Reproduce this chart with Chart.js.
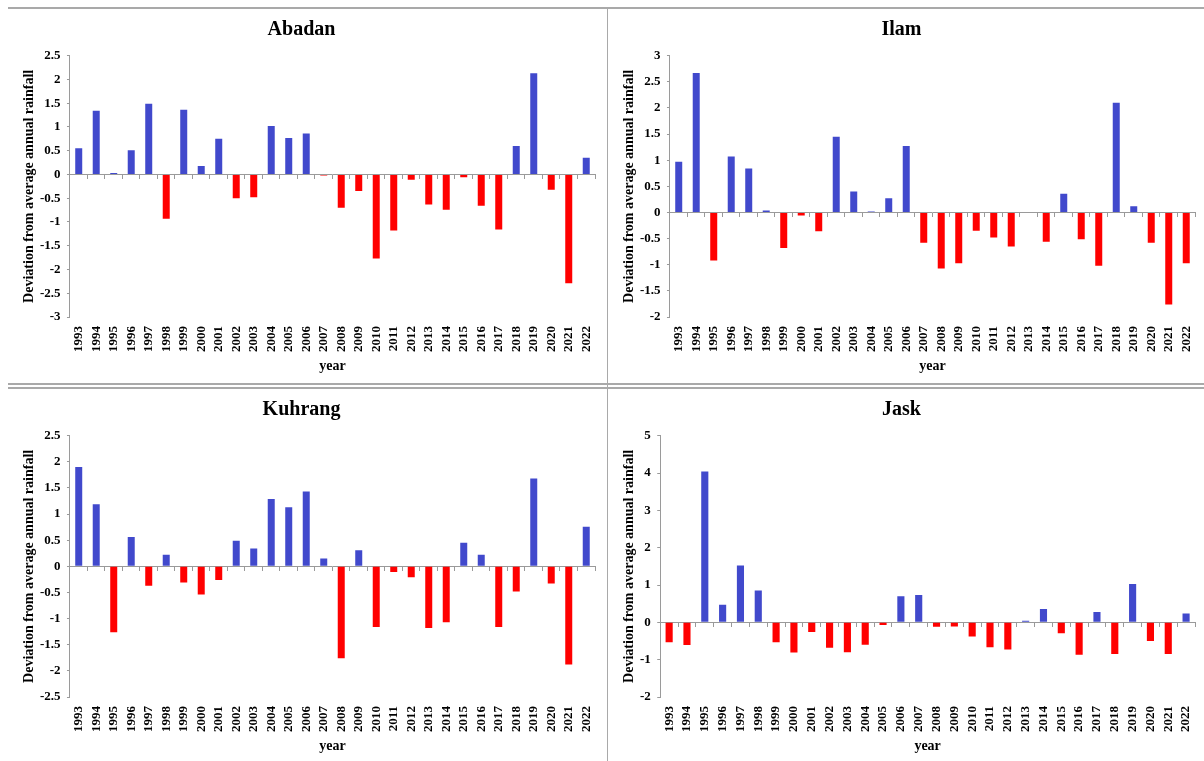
<!DOCTYPE html>
<html>
<head>
<meta charset="utf-8">
<script src="https://cdn.jsdelivr.net/npm/chart.js@4.4.1/dist/chart.umd.min.js"></script>
<style>
  html, body { margin: 0; padding: 0; background: #fff; overflow: hidden; }
  body { width: 1204px; height: 761px; position: relative; }
  .rule { position: absolute; background: #a9a9a9; }
  canvas { position: absolute; }
</style>
</head>
<body>
<div class="rule" style="left:8px; top:7px; width:1196px; height:2px"></div>
<div class="rule" style="left:8px; top:383px; width:1196px; height:2px"></div>
<div class="rule" style="left:8px; top:387px; width:1196px; height:2px"></div>
<div class="rule" style="left:607px; top:8px; width:1px; height:753px"></div>

<canvas id="abadan" width="599" height="375" style="left:8px; top:9px"></canvas>
<canvas id="ilam" width="596" height="375" style="left:608px; top:9px"></canvas>
<canvas id="kuhrang" width="599" height="375" style="left:8px; top:389px"></canvas>
<canvas id="jask" width="596" height="375" style="left:608px; top:389px"></canvas>

<script>
const years = [
  "1993", "1994", "1995", "1996", "1997", "1998", "1999", "2000", "2001", "2002",
  "2003", "2004", "2005", "2006", "2007", "2008", "2009", "2010", "2011", "2012",
  "2013", "2014", "2015", "2016", "2017", "2018", "2019", "2020", "2021", "2022",
];

const abadan = [
  0.55, 1.34, 0.03, 0.51, 1.49, -0.93, 1.36, 0.18, 0.75, -0.5,
  -0.48, 1.02, 0.77, 0.86, -0.02, -0.7, -0.35, -1.77, -1.18, -0.11,
  -0.63, -0.74, -0.06, -0.66, -1.16, 0.6, 2.13, -0.32, -2.29, 0.35,
];

const ilam = [
  0.97, 2.67, -0.92, 1.07, 0.84, 0.04, -0.68, -0.06, -0.36, 1.45,
  0.4, 0.02, 0.27, 1.27, -0.58, -1.07, -0.97, -0.35, -0.48, -0.65,
  0, -0.56, 0.36, -0.51, -1.02, 2.1, 0.12, -0.58, -1.76, -0.97,
];

const kuhrang = [
  1.9, 1.19, -1.26, 0.56, -0.37, 0.22, -0.31, -0.54, -0.26, 0.49,
  0.34, 1.29, 1.13, 1.43, 0.15, -1.76, 0.31, -1.16, -0.11, -0.21,
  -1.18, -1.07, 0.45, 0.22, -1.16, -0.48, 1.68, -0.33, -1.88, 0.76,
];

const jask = [
  -0.53, -0.61, 4.04, 0.47, 1.52, 0.85, -0.53, -0.81, -0.26, -0.68,
  -0.8, -0.6, -0.07, 0.7, 0.73, -0.12, -0.11, -0.38, -0.67, -0.73,
  0.04, 0.36, -0.29, -0.87, 0.28, -0.85, 1.03, -0.5, -0.85, 0.24,
];

const SERIF = "'Liberation Serif', 'Times New Roman', serif";
const BLUE = "#4149cc";
const RED = "#ff0000";
const AXIS = "#9a9a9a";

function boldFont(size) {
  return { family: SERIF, size, weight: "bold" };
}

function drawPanel(id, title, values, yMin, yMax, yStep, rightPad) {
  new Chart(document.getElementById(id), {
    type: "bar",
    data: {
      labels: years,
      datasets: [
        {
          data: values,
          backgroundColor: values.map((v) => (v >= 0 ? BLUE : RED)),
          barPercentage: 0.4,
          categoryPercentage: 1,
          xAxisID: "x",
          yAxisID: "y",
        },
      ],
    },
    options: {
      responsive: false,
      animation: false,
      devicePixelRatio: 1,
      layout: { padding: { left: 0, right: rightPad, top: 0, bottom: 4 } },
      plugins: {
        legend: { display: false },
        tooltip: { enabled: false },
        title: {
          display: true,
          text: title,
          color: "#000",
          font: boldFont(20),
          padding: { top: 9, bottom: 13.7 },
        },
      },
      scales: {
        x: {
          type: "category",
          position: "bottom",
          grid: { display: false },
          border: { display: false },
          ticks: {
            color: "#000",
            font: boldFont(13),
            minRotation: 90,
            maxRotation: 90,
            padding: 1,
            autoSkip: false,
          },
          title: {
            display: true,
            text: "year",
            color: "#000",
            font: boldFont(14),
            padding: { top: 4.6, bottom: 5.6 },
          },
        },
        // zero line with category tick marks, like the Excel axis crossing at 0
        x2: {
          type: "category",
          position: { y: 0 },
          offset: true,
          grid: {
            display: true,
            drawOnChartArea: false,
            drawTicks: true,
            tickLength: 4,
            offset: true,
            color: AXIS,
          },
          border: { display: true, color: AXIS, width: 1 },
          ticks: { display: false },
        },
        y: {
          min: yMin,
          max: yMax,
          ticks: {
            stepSize: yStep,
            color: "#000",
            font: boldFont(13),
            padding: 6.5,
            callback: (v) => String(v),
          },
          grid: { drawOnChartArea: false, tickLength: 3, color: AXIS },
          border: { display: true, color: AXIS },
          title: {
            display: true,
            text: "Deviation from average annual rainfall",
            color: "#000",
            font: boldFont(14),
            padding: { top: 12.6, bottom: 0 },
          },
          afterFit: (scale) => {
            scale.width -= 4;
          },
        },
      },
    },
  });
}

drawPanel("abadan", "Abadan", abadan, -3, 2.5, 0.5, 12);
drawPanel("ilam", "Ilam", ilam, -2, 3, 0.5, 9);
drawPanel("kuhrang", "Kuhrang", kuhrang, -2.5, 2.5, 0.5, 12);
drawPanel("jask", "Jask", jask, -2, 5, 1, 9);
</script>
</body>
</html>
